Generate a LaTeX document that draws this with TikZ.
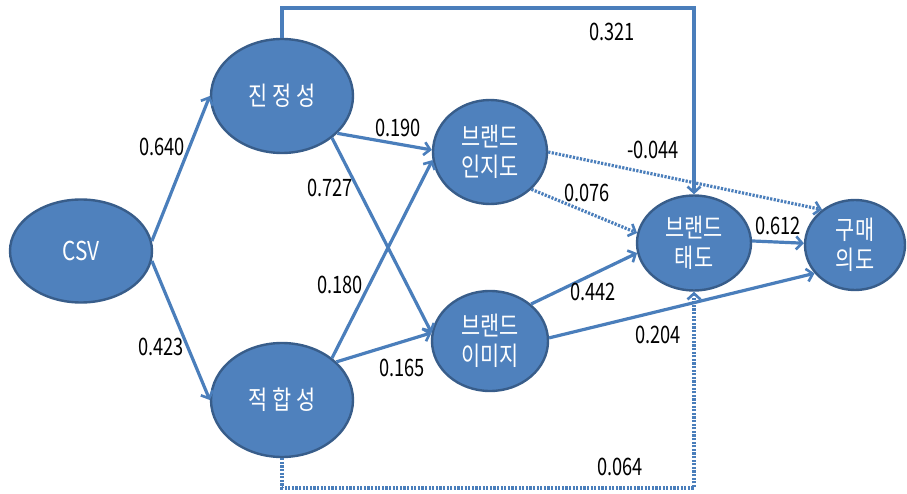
\documentclass[tikz,border=0pt]{standalone}
\usepackage{fontspec}
\setmainfont{Noto Sans CJK KR}
\usepackage{graphicx}
\usetikzlibrary{shapes.geometric,arrows.meta}
\definecolor{nodefill}{HTML}{4F81BD}
\definecolor{nodeline}{HTML}{385D8A}
\definecolor{arrowc}{HTML}{4A7EBB}
\newcommand\hx[1]{\scalebox{0.80}[1]{#1}}
\newcommand\nx[1]{\scalebox{0.76}[1]{#1}}
\tikzset{
  ell/.style={ellipse, fill=nodefill, draw=nodeline, line width=2.4pt, inner sep=0pt,
    text=white, align=center, font=\fontsize{26}{30}\selectfont},
  conn/.style={draw=arrowc, line width=3.2pt, -{Straight Barb[length=6pt,width=13pt,line width=2.6pt]}},
  dotc/.style={conn, dash pattern=on 2.2pt off 1.4pt},
  lab/.style={font=\fontsize{24}{28}\selectfont, text=black, inner sep=0pt}
}
\begin{document}
\begin{tikzpicture}[x=1pt,y=-1pt]
\useasboundingbox (0,0) rectangle (907,494);
\fill[white] (0,0) rectangle (907,494);
% nodes
\node[ell, minimum width=142pt, minimum height=103pt] (csv) at (81,251) {\hx{CSV}};
\node[ell, minimum width=142pt, minimum height=114pt] (jin) at (282,96) {\hx{진 정 성}};
\node[ell, minimum width=142pt, minimum height=114pt] (jeok) at (282,400) {\hx{적 합 성}};
\node[ell, minimum width=114pt, minimum height=104pt] (aw) at (490,152) {\hx{브랜드}\\\hx{인지도}};
\node[ell, minimum width=116pt, minimum height=100pt] (im) at (490,341) {\hx{브랜드}\\\hx{이미지}};
\node[ell, minimum width=114pt, minimum height=95pt] (att) at (694,243) {\hx{브랜드}\\\hx{태도}};
\node[ell, minimum width=100pt, minimum height=90pt] (pi) at (855,245) {\hx{구매}\\\hx{의도}};
% helper coordinates
\coordinate (t) at (694,8);
\coordinate (b) at (694,488);
% connectors
\draw[conn] (csv.8) -- (jin.west);
\draw[conn] (csv.-8) -- (jeok.west);
\draw[conn] (jin.-34) -- (aw.178);
\draw[conn] (jin.-40) -- (im.172);
\draw[conn] (jeok.40) -- (aw.188);
\draw[conn] (jeok.35) -- (im.172);
\draw[dotc] (aw.east) -- (pi.133);
\draw[dotc] (aw.-42) -- (att.170);
\draw[conn] (im.42) -- (att.190);
\draw[conn] (im.3) -- (pi.215);
\draw[conn] (att.2) -- (pi.178);
\draw[conn] (jin.north) |- (t) -- (att.north);
\draw[dotc] (jeok.south) |- (b) -- (att.south);
% labels
\node[lab] (l1) at (162,147) {\nx{0.640}};
\node[lab] (l2) at (161,347) {\nx{0.423}};
\node[lab] (l3) at (612,32) {\nx{0.321}};
\node[lab] (l4) at (398,128) {\nx{0.190}};
\node[lab] (l5) at (330,188) {\nx{0.727}};
\node[lab] (l6) at (340,285) {\nx{0.180}};
\node[lab] (l7) at (402,368) {\nx{0.165}};
\node[lab] (l8) at (653,150) {\nx{-0.044}};
\node[lab] (l9) at (587,193) {\nx{0.076}};
\node[lab] (l10) at (593,292) {\nx{0.442}};
\node[lab] (l11) at (658,335) {\nx{0.204}};
\node[lab] (l12) at (778,226) {\nx{0.612}};
\node[lab] (l13) at (620,467) {\nx{0.064}};
\end{tikzpicture}
\end{document}
